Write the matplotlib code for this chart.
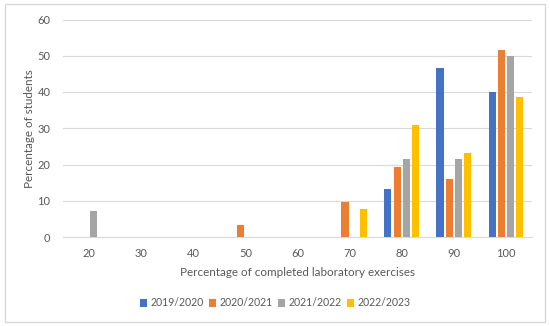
import matplotlib

matplotlib.use("agg")
import matplotlib.pyplot as plt
import numpy as np
from matplotlib.patches import Rectangle

plt.rcParams["font.family"] = ["Lato", "DejaVu Sans"]

categories = ["20", "30", "40", "50", "60", "70", "80", "90", "100"]
years = ["2019/2020", "2020/2021", "2021/2022", "2022/2023"]
colors = ["#4472C4", "#ED7D31", "#A5A5A5", "#FFC000"]

# percentage of students per completion bucket, one list per academic year
y2019 = [0, 0, 0, 0, 0, 0, 13.3, 46.7, 40.0]
y2020 = [0, 0, 0, 3.2, 0, 9.7, 19.4, 16.1, 51.6]
y2021 = [7.1, 0, 0, 0, 0, 0, 21.4, 21.4, 50.0]
y2022 = [0, 0, 0, 0, 0, 7.7, 30.8, 23.1, 38.5]
series = [y2019, y2020, y2021, y2022]

TEXT = "#595959"

fig = plt.figure(figsize=(5.5, 3.26), dpi=100)
fig.patches.append(Rectangle((5 / 550, 4 / 326), 540 / 550, 318 / 326,
                             transform=fig.transFigure, fill=False,
                             edgecolor="#D9D9D9", linewidth=1))
ax = fig.add_axes([63 / 550, 1 - 237 / 326, 469 / 550, 217.5 / 326])

x = np.arange(len(categories))
width = 0.135
pitch = 0.177
for i, (vals, year, col) in enumerate(zip(series, years, colors)):
    ax.bar(x + (i - 1.5) * pitch, vals, width, color=col, label=year, zorder=3)

ax.set_xlim(-0.5, len(categories) - 0.5)
ax.set_ylim(0, 60)
ax.set_yticks(range(0, 61, 10))
ax.set_xticks(x, categories)
ax.grid(axis="y", color="#D9D9D9", linewidth=0.8, zorder=0)
for s in ["top", "right", "left"]:
    ax.spines[s].set_visible(False)
ax.spines["bottom"].set_color("#D9D9D9")
ax.tick_params(length=0, labelsize=8, labelcolor=TEXT)
ax.tick_params(axis="y", pad=9)
ax.tick_params(axis="x", pad=8)

ax.set_xlabel("Percentage of completed laboratory exercises", fontsize=8.4, color=TEXT, labelpad=6)
ax.set_ylabel("Percentage of students", fontsize=8.4, color=TEXT, labelpad=2)

# legend sits centred on the whole figure, not on the plot area
fig.legend(loc="center", bbox_to_anchor=(0.5, 1 - 303 / 326), ncol=4, frameon=False,
           fontsize=7.6, labelcolor=TEXT, handlelength=0.7, handleheight=0.7,
           handletextpad=0.3, columnspacing=0.5)

fig.savefig("out.png", dpi=100)
